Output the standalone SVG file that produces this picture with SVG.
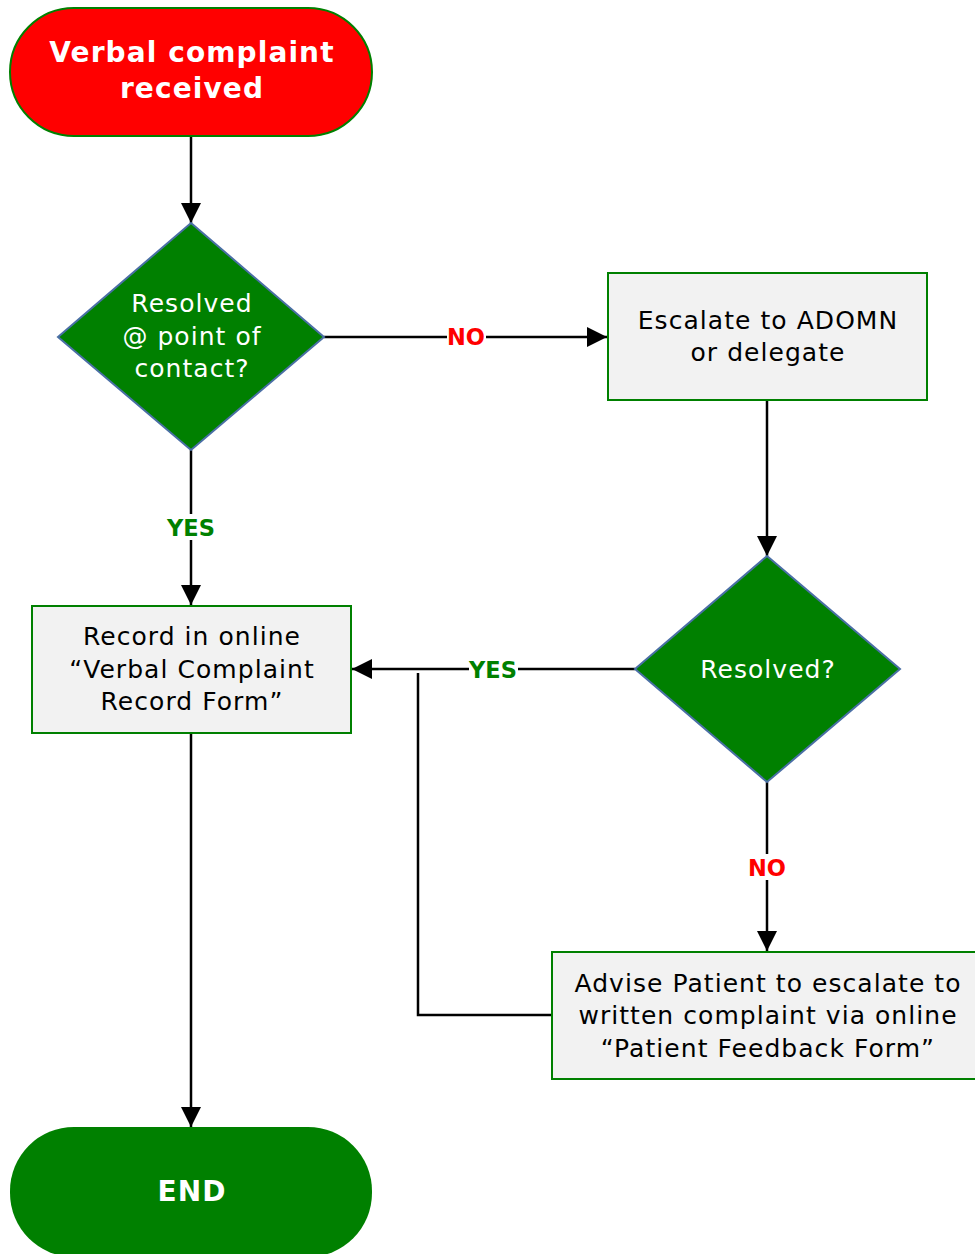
<svg xmlns="http://www.w3.org/2000/svg" width="975" height="1254" viewBox="0 0 975 1254">
<defs>
<marker id="arr" viewBox="0 0 10 10" refX="10" refY="5" markerWidth="20" markerHeight="20" markerUnits="userSpaceOnUse" orient="auto"><path d="M0,0 L10,5 L0,10 z" fill="#000"/></marker>
<style>
.conn{stroke:#000;stroke-width:2.5;fill:none}
.box{fill:#f2f2f2;stroke:#008000;stroke-width:2}
.dia{fill:#008000;stroke:#4a6fa5;stroke-width:2}
.t{font-family:"DejaVu Sans","Verdana",sans-serif;font-size:25px;letter-spacing:1.05px;text-anchor:middle}
.tw{fill:#fff}
.tb{fill:#000}
.lab{font-family:"DejaVu Sans","Verdana",sans-serif;font-size:22.5px;font-weight:bold;text-anchor:middle;dominant-baseline:central}
.big{font-family:"DejaVu Sans","Verdana",sans-serif;font-size:28px;letter-spacing:1.1px;font-weight:bold;text-anchor:middle;fill:#fff}
</style>
</defs>
<rect width="975" height="1254" fill="#fff"/>
<g id="connectors">
<line class="conn" x1="191" y1="136" x2="191" y2="223" marker-end="url(#arr)"/>
<line class="conn" x1="324" y1="337" x2="607" y2="337" marker-end="url(#arr)"/>
<line class="conn" x1="191" y1="450" x2="191" y2="605" marker-end="url(#arr)"/>
<line class="conn" x1="767" y1="400" x2="767" y2="556" marker-end="url(#arr)"/>
<line class="conn" x1="635" y1="669" x2="352" y2="669" marker-end="url(#arr)"/>
<line class="conn" x1="767" y1="782" x2="767" y2="951" marker-end="url(#arr)"/>
<polyline class="conn" points="552,1015 418,1015 418,673"/>
<line class="conn" x1="191" y1="733" x2="191" y2="1127" marker-end="url(#arr)"/>
<rect x="447" y="324" width="39" height="26" fill="#fff"/>
<text class="lab" x="466" y="337" fill="#ff0000">NO</text>
<rect x="167" y="514" width="49" height="26" fill="#fff"/>
<text class="lab" x="191" y="528" fill="#008000">YES</text>
<rect x="469" y="656" width="49" height="26" fill="#fff"/>
<text class="lab" x="493" y="670" fill="#008000">YES</text>
<rect x="748" y="854" width="39" height="26" fill="#fff"/>
<text class="lab" x="767" y="868" fill="#ff0000">NO</text>
</g>
<g id="start">
<rect x="10" y="8" width="362" height="128" rx="64" ry="64" fill="#ff0000" stroke="#008000" stroke-width="2"/>
<text class="big" x="192" y="62">Verbal complaint</text>
<text class="big" x="192" y="98">received</text>
</g>
<g id="decision1">
<polygon class="dia" points="191,223 324,337 191,450 58,337"/>
<text class="t tw" x="192" y="312">Resolved</text>
<text class="t tw" x="192" y="345">@ point of</text>
<text class="t tw" x="192" y="377">contact?</text>
</g>
<g id="escalate">
<rect class="box" x="608" y="273" width="319" height="127"/>
<text class="t tb" x="768" y="329">Escalate to ADOMN</text>
<text class="t tb" x="768" y="361">or delegate</text>
</g>
<g id="decision2">
<polygon class="dia" points="767,556 900,669 767,782 635,669"/>
<text class="t tw" x="768" y="678">Resolved?</text>
</g>
<g id="record">
<rect class="box" x="32" y="606" width="319" height="127"/>
<text class="t tb" x="192" y="645">Record in online</text>
<text class="t tb" x="192" y="678">“Verbal Complaint</text>
<text class="t tb" x="192" y="710">Record Form”</text>
</g>
<g id="advise">
<rect class="box" x="552" y="952" width="424" height="127"/>
<text class="t tb" x="768" y="992">Advise Patient to escalate to</text>
<text class="t tb" x="768" y="1024">written complaint via online</text>
<text class="t tb" x="768" y="1057">“Patient Feedback Form”</text>
</g>
<g id="end">
<rect x="10" y="1127" width="362" height="130" rx="64" ry="64" fill="#008000"/>
<text class="big" x="192" y="1201">END</text>
</g>
</svg>
